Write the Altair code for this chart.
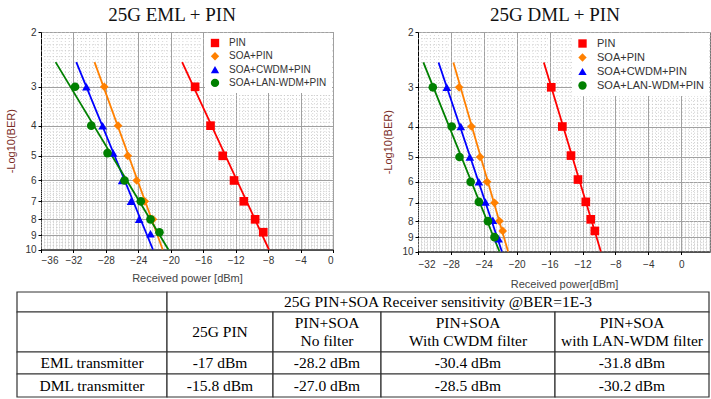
import altair as alt
import numpy as np
import pandas as pd

series = ["PIN", "SOA+PIN", "SOA+CWDM+PIN", "SOA+LAN-WDM+PIN"]
colors = ["#ff0000", "#ff8000", "#0000ff", "#008000"]
shapes = ["square", "diamond", "triangle-up", "circle"]

# ---- 25G EML + PIN : received power [dBm] and -log10(BER)
eml_pin_p = [-17.0, -15.1, -13.6, -12.2, -11.0, -9.6, -8.6]
eml_pin_b = [3.0, 4.0, 5.0, 6.0, 7.0, 8.0, 8.8]
eml_soa_p = [-28.2, -26.5, -25.3, -24.2, -23.2, -22.2]
eml_soa_b = [3.0, 4.0, 5.0, 6.0, 7.0, 8.0]
eml_cwdm_p = [-30.4, -28.4, -27.1, -26.0, -24.9, -23.9, -22.5]
eml_cwdm_b = [3.0, 4.0, 4.9, 6.0, 7.0, 8.0, 8.9]
eml_lan_p = [-31.8, -29.8, -27.8, -25.7, -23.7, -22.5, -21.4]
eml_lan_b = [3.0, 4.0, 4.9, 6.0, 7.0, 8.0, 8.8]

# ---- 25G DML + PIN
dml_pin_p = [-15.8, -14.45, -13.4, -12.55, -11.6, -11.0, -10.5]
dml_pin_b = [3.0, 4.0, 4.95, 5.9, 6.95, 7.9, 8.6]
dml_soa_p = [-27.0, -25.5, -24.45, -23.6, -22.7, -22.1, -21.7]
dml_soa_b = [3.0, 4.0, 5.0, 6.0, 7.0, 8.0, 8.6]
dml_cwdm_p = [-28.5, -26.8, -25.7, -24.6, -23.8, -22.9, -22.2]
dml_cwdm_b = [3.0, 4.0, 5.0, 6.0, 6.95, 7.95, 9.1]
dml_lan_p = [-30.2, -27.9, -26.95, -25.6, -24.6, -23.5, -22.7]
dml_lan_b = [3.0, 4.0, 5.0, 6.0, 6.95, 8.0, 9.0]

# ---- fitted lines: power at -log10(BER) = 2.5 and 10
fit_ber = [2.5, 10.0]
eml_fit_pin = [-18.6, -7.9]
eml_fit_soa = [-29.4, -21.0]
eml_fit_cwdm = [-31.65, -22.2]
eml_fit_lan = [-34.2, -20.3]
dml_fit_pin = [-16.7, -9.77]
dml_fit_soa = [-27.7, -21.05]
dml_fit_cwdm = [-29.5, -21.8]
dml_fit_lan = [-31.35, -22.1]

# ---- axes
eml_xticks = [-36, -32, -28, -24, -20, -16, -12, -8, -4, 0]
dml_xticks = [-32, -28, -24, -20, -16, -12, -8, -4, 0]
yticks = [2, 3, 4, 5, 6, 7, 8, 9, 10]

# ---- table
table_header = "25G PIN+SOA Receiver sensitivity @BER=1E-3"
col_heads = ["25G PIN", "PIN+SOA\nNo filter", "PIN+SOA\nWith CWDM filter",
             "PIN+SOA\nwith LAN-WDM filter"]
row_heads = ["EML transmitter", "DML transmitter"]
eml_sens = ["-17 dBm", "-28.2 dBm", "-30.4 dBm", "-31.8 dBm"]
dml_sens = ["-15.8 dBm", "-27.0 dBm", "-28.5 dBm", "-30.2 dBm"]


def points_df(ps, bs):
    rows = []
    for s, p, b in zip(series, ps, bs):
        for pi, bi in zip(p, b):
            rows.append({"series": s, "power": pi, "ber": bi})
    return pd.DataFrame(rows)


def fits_df(fits):
    rows = []
    for s, f in zip(series, fits):
        for pi, bi in zip(f, fit_ber):
            rows.append({"series": s, "power": pi, "ber": bi})
    return pd.DataFrame(rows)


eml_pts = points_df([eml_pin_p, eml_soa_p, eml_cwdm_p, eml_lan_p],
                    [eml_pin_b, eml_soa_b, eml_cwdm_b, eml_lan_b])
dml_pts = points_df([dml_pin_p, dml_soa_p, dml_cwdm_p, dml_lan_p],
                    [dml_pin_b, dml_soa_b, dml_cwdm_b, dml_lan_b])
eml_fit = fits_df([eml_fit_pin, eml_fit_soa, eml_fit_cwdm, eml_fit_lan])
dml_fit = fits_df([dml_fit_pin, dml_fit_soa, dml_fit_cwdm, dml_fit_lan])

minor_y = [float(v) for v in np.round(np.arange(2.1, 10.0, 0.1), 1) if abs(v - round(v)) > 1e-6]


def make_plot(pts, fit, xdomain, xticks, width, height, title, title_dx,
              xtitle, x_labpad, x_titlepad, leg_font, leg_rowpad, leg_pad, leg_off):
    xs = alt.Scale(domain=xdomain, nice=False, zero=False)
    ys = alt.Scale(type="log", domain=[2, 10], reverse=True, nice=False)
    minor_x = [float(v) for v in np.arange(xdomain[0], xdomain[1] + 0.01, 0.5) if v % 4 != 0]
    xaxis = alt.Axis(values=xticks, title=xtitle, grid=True, gridColor="#a0a0a0", gridWidth=1,
                     domainColor="#000", tickColor="#000", tickSize=3,
                     labelFont="Liberation Sans", labelFontSize=10, labelColor="#333",
                     labelPadding=x_labpad, titleFont="Liberation Sans", titleFontSize=11,
                     titleColor="#444", titleFontWeight="normal", titlePadding=x_titlepad)
    yaxis = alt.Axis(values=yticks, format="d", title="-Log10(BER)", grid=True,
                     gridColor="#a0a0a0", gridWidth=1, domainColor="#000", tickColor="#000",
                     tickSize=3, labelFont="Liberation Sans", labelFontSize=10, labelColor="#333",
                     labelPadding=2, titleFont="Liberation Sans", titleFontSize=11,
                     titleColor="#7b2d26", titleFontWeight="normal", titlePadding=8)
    legend = alt.Legend(orient="top-right", offset=1, title=None,
                        fillColor="white", padding=leg_pad, labelFont="Liberation Sans",
                        labelFontSize=leg_font, labelColor="#333", symbolSize=70,
                        symbolStrokeWidth=0, symbolOpacity=1, rowPadding=leg_rowpad,
                        labelOffset=leg_off)
    vgrid = alt.Chart(pd.DataFrame({"v": minor_x})).mark_rule(
        color="#cccccc", strokeWidth=0.8, strokeDash=[1, 2]).encode(
        x=alt.X("v:Q", scale=xs, axis=xaxis))
    hgrid = alt.Chart(pd.DataFrame({"v": minor_y})).mark_rule(
        color="#c4c4c4", strokeWidth=0.8, strokeDash=[1, 2]).encode(
        y=alt.Y("v:Q", scale=ys, axis=yaxis))
    line_layers = []
    for s, c in zip(series, colors):
        line_layers.append(
            alt.Chart(fit[fit.series == s]).mark_line(strokeWidth=1.8, color=c).encode(
                x=alt.X("power:Q", scale=xs, axis=xaxis),
                y=alt.Y("ber:Q", scale=ys, axis=yaxis)))
    pts_layer = alt.Chart(pts).mark_point(filled=True, opacity=1, size=75).encode(
        x=alt.X("power:Q", scale=xs, axis=xaxis),
        y=alt.Y("ber:Q", scale=ys, axis=yaxis),
        color=alt.Color("series:N", scale=alt.Scale(domain=series, range=colors), legend=legend),
        shape=alt.Shape("series:N", scale=alt.Scale(domain=series, range=shapes), legend=legend))
    return alt.layer(vgrid, hgrid, *line_layers, pts_layer).properties(
        width=width, height=height,
        title=alt.TitleParams(title, font="Liberation Serif", fontSize=19, fontWeight="normal",
                              color="#111", dx=title_dx, offset=2, anchor="middle"),
        view=alt.ViewBackground(stroke="#777", strokeWidth=1))


left = make_plot(eml_pts, eml_fit, [-36, 0], eml_xticks, 292, 217.5, "25G EML + PIN", -15,
                 "Received power [dBm]", 3, 7, 10, 3.3, 5, 9)
right = make_plot(dml_pts, dml_fit, [-32, 3.5], dml_xticks, 292, 219.5, "25G DML + PIN", -9,
                  "Received power[dBm]", 5, 9, 11, 2.0, 5, 9)

top = alt.hconcat(left, right, spacing=85, bounds="flush").resolve_scale(
    color="independent", shape="independent").resolve_legend(
    color="independent", shape="independent")

# ---- table layout (column / row edges in pixels, relative to panel)
col_edges_px = [-24, 126, 232, 340, 514, 668]
row_edges_px = [0, 20, 60, 82, 105]
col_idx = list(range(len(col_edges_px)))
row_idx = list(range(len(row_edges_px)))

cells = [(0, 1, 0, 1, ""), (1, 5, 0, 1, table_header), (0, 1, 1, 2, "")]
for i, t in enumerate(col_heads):
    cells.append((i + 1, i + 2, 1, 2, t))
cells.append((0, 1, 2, 3, row_heads[0]))
for i, t in enumerate(eml_sens):
    cells.append((i + 1, i + 2, 2, 3, t))
cells.append((0, 1, 3, 4, row_heads[1]))
for i, t in enumerate(dml_sens):
    cells.append((i + 1, i + 2, 3, 4, t))

tbl = pd.DataFrame(cells, columns=["c0", "c1", "r0", "r1", "text"])
tbl["cx"] = [float(np.interp((col_edges_px[a] + col_edges_px[b]) / 2, col_edges_px, col_idx))
             for a, b in zip(tbl.c0, tbl.c1)]
tbl["cy"] = (tbl.r0 + tbl.r1) / 2
tbl["two"] = tbl.text.str.contains("\n")

txs = alt.Scale(domain=col_idx, range=col_edges_px, nice=False, zero=False)
tys = alt.Scale(domain=row_idx, range=row_edges_px, nice=False, zero=False)

rects = alt.Chart(tbl).mark_rect(fill="white", stroke="#333", strokeWidth=1.2).encode(
    x=alt.X("c0:Q", scale=txs, axis=None), x2="c1",
    y=alt.Y("r0:Q", scale=tys, axis=None), y2="r1")


def text_layer(df, dy):
    return alt.Chart(df).mark_text(font="Liberation Serif", fontSize=15.5, lineHeight=18,
                                   lineBreak="\n", color="#000", align="center",
                                   baseline="middle", dy=dy).encode(
        x=alt.X("cx:Q", scale=txs, axis=None),
        y=alt.Y("cy:Q", scale=tys, axis=None),
        text="text:N")


texts1 = text_layer(tbl[~tbl.two], 0)
texts2 = text_layer(tbl[tbl.two], -9)
table = alt.layer(rects, texts1, texts2).properties(width=668, height=105)

chart = alt.vconcat(top, table, spacing=0).properties(
    padding={"left": 5, "top": 5, "right": 0, "bottom": 0},
    background="white").configure_view(stroke="transparent")

chart.save("out.html", embed_options={"renderer": "svg", "actions": False})
